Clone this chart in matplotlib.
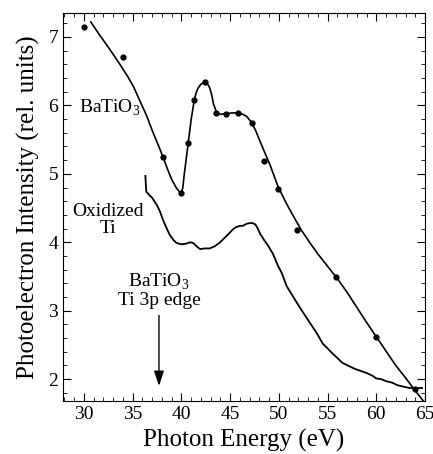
import matplotlib
matplotlib.use("Agg")
import matplotlib.pyplot as plt
from matplotlib.ticker import MultipleLocator

plt.rcParams['font.family'] = 'Liberation Serif'
plt.rcParams['mathtext.fontset'] = 'custom'
plt.rcParams['mathtext.rm'] = 'Liberation Serif'

# BaTiO3 measured points
bto_x = [30.0, 34.0, 38.1, 40.0, 40.7, 41.3, 42.4, 43.6, 44.6, 45.8, 47.2, 48.5, 49.9, 51.9, 55.9, 60.0, 64.0]
bto_y = [7.15, 6.71, 5.25, 4.72, 5.45, 6.08, 6.34, 5.89, 5.88, 5.89, 5.74, 5.19, 4.78, 4.18, 3.49, 2.61, 1.86]

# BaTiO3 fit curve
fit_x = [30.7, 31.6, 32.6, 33.6, 34.5, 35.1, 35.7, 36.4, 37.1, 37.6, 38.1, 38.6, 39.0, 39.5, 39.8,
         40.0, 40.15, 40.3, 40.5, 40.7, 41.0, 41.3, 41.5, 41.7, 42.0, 42.4, 42.7, 42.9, 43.1, 43.3,
         43.6, 44.0, 44.6, 45.2, 45.8, 46.3, 46.7, 47.2, 47.6, 48.0, 48.5, 49.1, 49.9, 50.8, 51.5,
         52.3, 53.2, 54.0, 55.0, 56.0, 57.0, 58.0, 59.0, 60.0, 61.0, 62.0, 63.0, 64.0, 65.0]
fit_y = [7.22, 7.03, 6.83, 6.62, 6.42, 6.27, 6.08, 5.86, 5.6, 5.43, 5.25, 5.06, 4.92, 4.79, 4.74,
         4.72, 4.8, 5.0, 5.22, 5.45, 5.79, 6.06, 6.18, 6.25, 6.31, 6.34, 6.31, 6.26, 6.16, 6.02,
         5.9, 5.87, 5.88, 5.89, 5.89, 5.87, 5.84, 5.75, 5.64, 5.5, 5.33, 5.13, 4.82, 4.56, 4.38,
         4.18, 3.99, 3.83, 3.65, 3.47, 3.27, 3.05, 2.83, 2.62, 2.41, 2.2, 2.02, 1.83, 1.65]

# Oxidized Ti spectrum
ti_x = [36.3, 36.35, 36.4, 36.7, 37.0, 37.5, 37.8, 38.1, 38.5, 38.8, 39.2, 39.5, 40.0, 40.5, 40.9,
        41.2, 41.5, 41.9, 42.4, 42.9, 43.4, 43.9, 44.4, 44.9, 45.3, 45.6, 46.0, 46.3, 46.7, 47.0,
        47.3, 47.6, 47.8, 48.1, 48.5, 48.9, 49.4, 49.9, 50.3, 50.8, 51.4, 52.1, 52.6, 53.2, 53.9,
        54.5, 55.0, 55.4, 56.0, 56.5, 57.2, 57.8, 58.4, 59.0, 59.6, 60.0, 60.5, 61.0, 61.6, 62.2,
        62.8, 63.4, 64.0, 64.7]
ti_y = [4.97, 4.85, 4.74, 4.69, 4.65, 4.54, 4.45, 4.33, 4.2, 4.11, 4.03, 3.99, 3.97, 3.98, 4.0,
        3.99, 3.95, 3.9, 3.91, 3.91, 3.94, 3.99, 4.06, 4.13, 4.19, 4.22, 4.24, 4.24, 4.27, 4.28,
        4.28, 4.26, 4.21, 4.12, 4.03, 3.95, 3.83, 3.66, 3.55, 3.36, 3.22, 3.06, 2.95, 2.82, 2.67,
        2.52, 2.45, 2.39, 2.31, 2.24, 2.19, 2.15, 2.12, 2.09, 2.05, 2.01, 2.0, 1.97, 1.95, 1.91,
        1.89, 1.87, 1.87, 1.87]

edge_x = 37.7

fig = plt.figure(figsize=(4.33, 4.54), dpi=100)
ax = fig.add_axes([0.1455, 0.1167, 0.836, 0.8546])

ax.plot(fit_x, fit_y, color='black', lw=1.2)
ax.plot(bto_x, bto_y, 'o', color='black', ms=3.5)
ax.plot(ti_x, ti_y, color='black', lw=1.3)

ax.text(29.5, 5.96, r'BaTiO$_\mathregular{3}$', fontsize=14, va='center', ha='left')
ax.text(32.5, 4.33, 'Oxidized\nTi', fontsize=14, va='center', ha='center', linespacing=1.0)
ax.text(edge_x, 3.3, 'BaTiO$_\mathregular{3}$\nTi 3p edge', fontsize=14, va='center', ha='center',
        linespacing=1.0)
ax.annotate('', xy=(edge_x, 1.86), xytext=(edge_x, 2.97),
            arrowprops=dict(arrowstyle='-|>,head_length=0.9,head_width=0.3', color='black', lw=1.0))

ax.set_xlim(27.85, 65)
ax.set_ylim(1.68, 7.35)
ax.xaxis.set_major_locator(MultipleLocator(5))
ax.xaxis.set_minor_locator(MultipleLocator(1))
ax.yaxis.set_major_locator(MultipleLocator(1))
ax.yaxis.set_minor_locator(MultipleLocator(0.2))
ax.tick_params(which='both', direction='in', top=True, right=True, labelsize=14)
ax.tick_params(which='major', length=6)
ax.tick_params(which='minor', length=3)

ax.set_xlabel('Photon Energy (eV)', fontsize=18, labelpad=4)
ax.set_ylabel('Photoelectron Intensity (rel. units)', fontsize=18, labelpad=6)

fig.savefig('out.png', dpi=100)
